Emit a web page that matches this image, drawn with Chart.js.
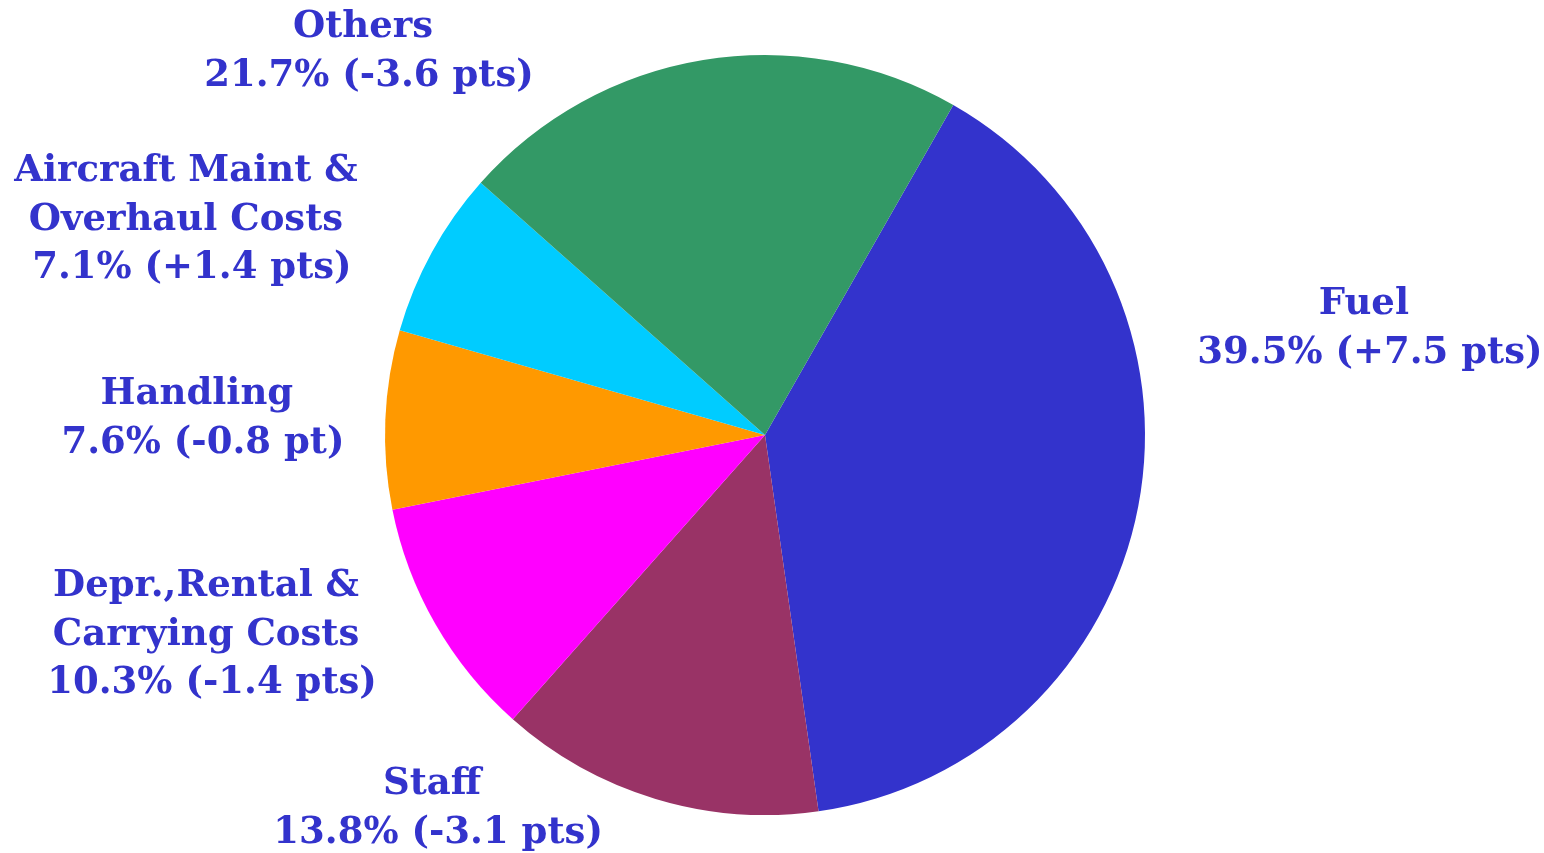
<!DOCTYPE html>
<html>
<head>
<meta charset="utf-8">
<script src="https://cdn.jsdelivr.net/npm/chart.js@4.4.1/dist/chart.umd.min.js"></script>
<style>
  html, body { margin: 0; padding: 0; background: #ffffff; }
  #wrap { width: 1544px; height: 853px; }
</style>
</head>
<body>
<div id="wrap"><canvas id="pie"></canvas></div>
<script>
const categories = ["Fuel", "Staff", "Depr.,Rental & Carrying Costs", "Handling", "Aircraft Maint & Overhaul Costs", "Others"];
const shares = [39.5, 13.8, 10.3, 7.6, 7.1, 21.7];
const changes = ["+7.5 pts", "-3.1 pts", "-1.4 pts", "-0.8 pt", "+1.4 pts", "-3.6 pts"];
const labelLines = [
  ["Fuel"],
  ["Staff"],
  ["Depr.,Rental &", "Carrying Costs"],
  ["Handling"],
  ["Aircraft Maint &", "Overhaul Costs"],
  ["Others"]
];
const colors = ["#3333CC", "#993366", "#FF00FF", "#FF9900", "#00CCFF", "#339966"];

// label block centres, in units of the pie radius from its centre
const labelSpots = [
  [1.576, -0.284],
  [-0.876, 0.979],
  [-1.471, 0.521],
  [-1.495, -0.047],
  [-1.524, -0.571],
  [-1.058, -1.013]
];

const outsideLabels = {
  id: "outsideLabels",
  afterDraw(chart) {
    const ctx = chart.ctx;
    const arcs = chart.getDatasetMeta(0).data;
    ctx.save();
    ctx.fillStyle = "#3333CC";
    ctx.font = "bold 37px 'DejaVu Serif'";
    ctx.textAlign = "center";
    ctx.textBaseline = "middle";
    const lineH = 48.5;
    arcs.forEach((arc, i) => {
      const r = arc.outerRadius;
      const lines = labelLines[i].concat([shares[i].toFixed(1) + "% (" + changes[i] + ")"]);
      const cx = arc.x + labelSpots[i][0] * r;
      const cy = arc.y + labelSpots[i][1] * r;
      const top = cy - (lines.length - 1) * lineH / 2;
      lines.forEach((t, j) => {
        // the value line sits a little right of the name lines
        const shift = j === lines.length - 1 ? 6 : 0;
        ctx.fillText(t, cx + shift, top + j * lineH + 2);
      });
    });
    ctx.restore();
  }
};

new Chart(document.getElementById("pie"), {
  type: "pie",
  data: {
    labels: categories,
    datasets: [{
      data: shares,
      backgroundColor: colors,
      borderWidth: 0
    }]
  },
  options: {
    responsive: true,
    maintainAspectRatio: false,
    animation: false,
    rotation: 29.7,
    layout: { padding: { top: 55, bottom: 38, left: 0, right: 14 } },
    plugins: {
      legend: { display: false },
      tooltip: { enabled: false }
    }
  },
  plugins: [outsideLabels]
});
</script>
</body>
</html>
